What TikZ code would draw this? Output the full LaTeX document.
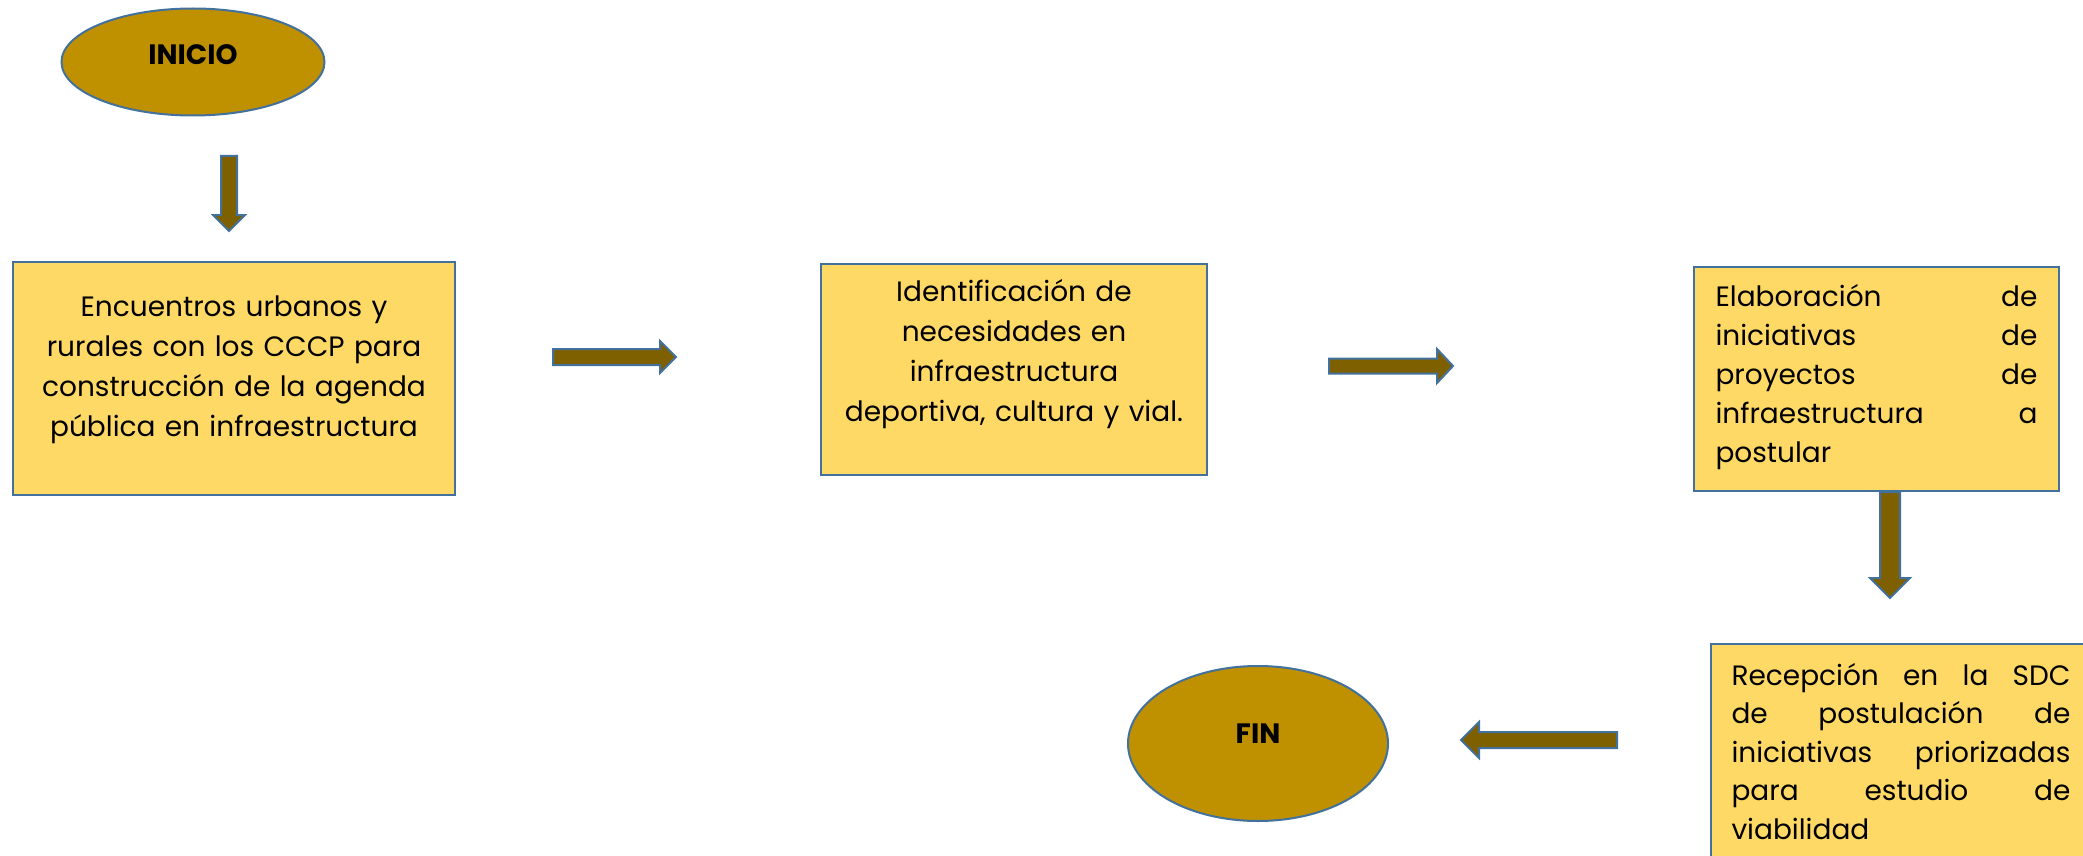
\documentclass[tikz,border=0pt]{standalone}
\usepackage{fontspec}
\setmainfont{Poppins}
\usetikzlibrary{shapes.geometric,calc}

\definecolor{gold}{HTML}{BF9000}
\definecolor{paleyellow}{HTML}{FFD966}
\definecolor{darkbrown}{HTML}{7F6000}
\definecolor{steelblue}{HTML}{41719C}

\tikzset{
  terminal/.style={ellipse, draw=steelblue, line width=2pt, fill=gold, inner sep=0pt},
  terminaltext/.style={inner sep=0pt, font=\bfseries\fontsize{28}{34}\selectfont},
  process/.style={rectangle, draw=steelblue, line width=2pt, fill=paleyellow, inner sep=0pt},
  processtext/.style={inner sep=0pt, font=\fontsize{28}{40}\selectfont},
  arrowbody/.style={draw=steelblue, line width=2pt, fill=darkbrown, line join=miter}
}

% block arrow: start, tip, shaft half width, head half width, head length
\newcommand{\blockarrow}[5]{%
  \path ($(#2)!#5pt!(#1)$) coordinate (ah);
  \draw[arrowbody] ($(#1)!#3pt!90:(#2)$) -- ($(ah)!#3pt!90:(#2)$) -- ($(ah)!#4pt!90:(#2)$)
    -- (#2) -- ($(ah)!#4pt!-90:(#2)$) -- ($(ah)!#3pt!-90:(#2)$) -- ($(#1)!#3pt!-90:(#2)$) -- cycle;
}

\begin{document}
\begin{tikzpicture}[x=1pt,y=-1pt]
    \useasboundingbox (0,0) rectangle (2083,856);

    % shapes
    \node[terminal, minimum width=263pt, minimum height=107pt] (inicio) at (193, 62) {};
    \node[process, minimum width=442pt, minimum height=233pt] (encuentros) at (234, 378.5) {};
    \node[process, minimum width=386pt, minimum height=211pt] (identificacion) at (1014, 369.5) {};
    \node[process, minimum width=365pt, minimum height=224pt] (elaboracion) at (1876.5, 379) {};
    \node[process, minimum width=380pt, minimum height=225pt] (recepcion) at (1901, 756.5) {};
    \node[terminal, minimum width=260pt, minimum height=155pt] (fin) at (1258, 743.5) {};

    % texts
    \node[terminaltext] (inicio-t) at ([yshift=7pt]inicio.center) {INICIO};
    \node[terminaltext] (fin-t) at ([yshift=10pt]fin.center) {FIN};
    \node[processtext, text width=420pt, align=center] (encuentros-t) at ([yshift=9pt]encuentros.center)
        {Encuentros urbanos y\\ rurales con los CCCP para\\ construcción de la agenda\\ pública en infraestructura};
    \node[processtext, text width=370pt, align=center] (identificacion-t) at ([yshift=15pt]identificacion.center)
        {Identificación de\\ necesidades en\\ infraestructura\\ deportiva, cultura y vial.};
    \node[processtext, text width=322pt, align=left, font=\fontsize{28}{39}\selectfont] (elaboracion-t)
        at ([yshift=2pt]elaboracion.center)
        {Elaboración\hfill de\\ iniciativas\hfill de\\ proyectos\hfill de\\ infraestructura\hfill a\\ postular};
    \node[processtext, text width=339pt, align=left, font=\fontsize{28}{38.5}\selectfont] (recepcion-t)
        at ([yshift=5pt]recepcion.center)
        {Recepción\hfill en\hfill la\hfill SDC\\ de\hfill postulación\hfill de\\ iniciativas\hfill priorizadas\\ para\hfill estudio\hfill de\\ viabilidad};

    % arrows
    \coordinate (a0s) at (229, 156);
    \coordinate (a0e) at (229, 231);
    \coordinate (a1s) at (553, 357);
    \coordinate (a1e) at (676, 357);
    \coordinate (a2s) at (1329, 366);
    \coordinate (a2e) at (1453, 366);
    \coordinate (a3s) at (elaboracion.south -| 1890, 0);
    \coordinate (a3e) at (1890, 598);
    \coordinate (a4s) at (1617, 740);
    \coordinate (a4e) at (1461, 740);

    \blockarrow{a0s}{a0e}{8}{16}{16}
    \blockarrow{a1s}{a1e}{8}{16}{16}
    \blockarrow{a2s}{a2e}{7.5}{17}{16}
    \blockarrow{a3s}{a3e}{10}{20}{20}
    \blockarrow{a4s}{a4e}{8}{18}{18}
\end{tikzpicture}
\end{document}
